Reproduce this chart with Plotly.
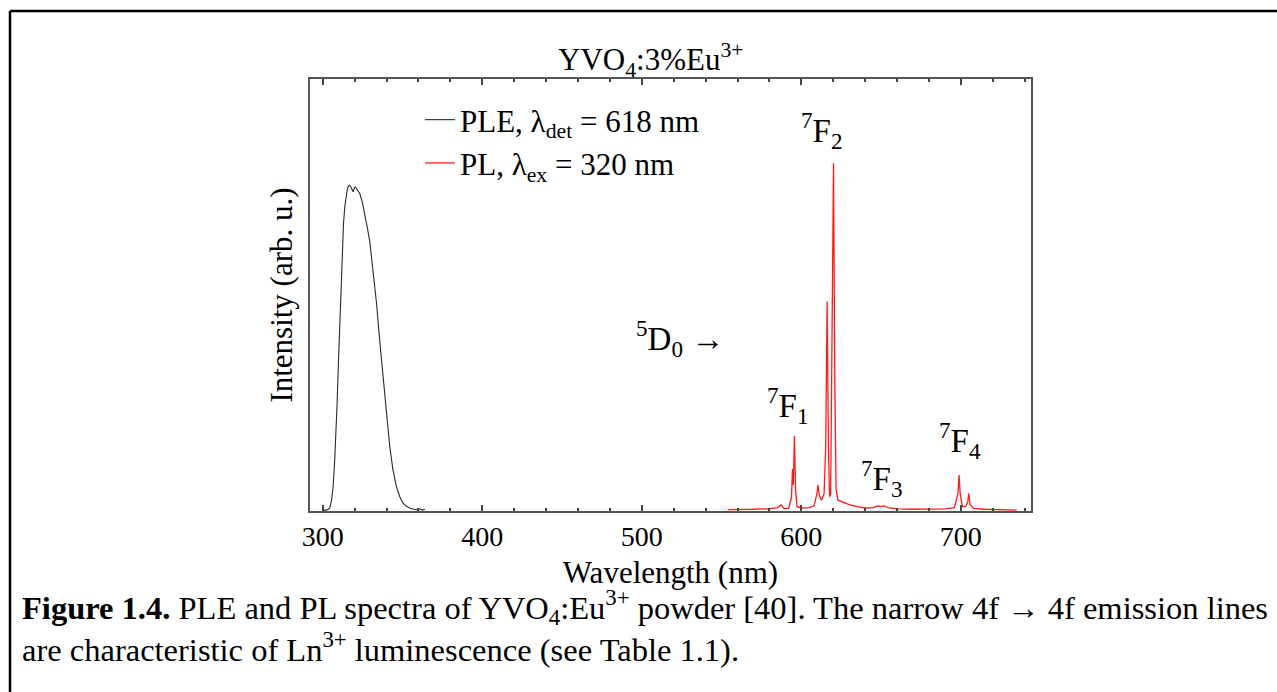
import plotly.graph_objects as go

# ---------------- data ----------------
ple_wl = [300.0, 302.0, 303.5, 304.4, 305.5, 306.5, 307.5, 308.3, 309.0, 309.9, 310.7, 311.5, 312.3, 313.0,
          313.8, 314.6, 315.3, 316.0, 316.8, 317.6, 318.3, 319.0, 319.8, 320.5, 321.3, 322.2, 323.2, 324.8,
          326.3, 328.0, 329.5, 331.5, 333.7, 335.8, 337.8, 340.0, 342.0, 344.0, 346.2, 348.3, 350.3, 352.5,
          354.5, 357.0, 359.0, 361.0, 362.5, 364.0]
ple_int = [0.002, 0.002, 0.004, 0.007, 0.025, 0.056, 0.118, 0.18, 0.25, 0.35, 0.442, 0.54, 0.62, 0.665,
           0.704, 0.730, 0.743, 0.752, 0.754, 0.750, 0.744, 0.739, 0.748, 0.750, 0.745, 0.740, 0.735, 0.715,
           0.690, 0.655, 0.623, 0.56, 0.481, 0.39, 0.311, 0.225, 0.149, 0.095, 0.056, 0.033, 0.018, 0.011,
           0.007, 0.004, 0.003, 0.005, 0.002, 0.004]

pl_wl = [553.9, 560, 565, 570, 575, 580, 585, 587.5, 589, 592, 593.8, 594.5, 595.0, 595.7, 596.4, 597.3,
         600, 605, 608, 609.8, 610.5, 611.3, 612.7, 614.3, 615.3, 616.2, 617.0, 617.7, 618.4, 619.3, 620.2,
         621.0, 621.8, 623, 626, 630, 635, 640, 645, 648, 650, 652, 655, 660, 670, 680, 690, 696, 698.2,
         698.9, 699.6, 701, 703, 704.3, 705.0, 705.8, 708, 715, 725, 735]
pl_int = [0.003, 0.003, 0.004, 0.004, 0.005, 0.005, 0.008, 0.014, 0.006, 0.006, 0.03, 0.097, 0.06, 0.174,
          0.05, 0.01, 0.007, 0.008, 0.012, 0.04, 0.060, 0.035, 0.025, 0.04, 0.15, 0.485, 0.15, 0.033, 0.04,
          0.35, 0.805, 0.3, 0.05, 0.025, 0.02, 0.015, 0.01, 0.007, 0.008, 0.012, 0.010, 0.012, 0.007, 0.005,
          0.004, 0.004, 0.005, 0.008, 0.04, 0.083, 0.04, 0.01, 0.01, 0.02, 0.041, 0.015, 0.006, 0.004, 0.003,
          0.002]

x_ticks = [300, 400, 500, 600, 700]
x_ticklabels = ["300", "400", "500", "600", "700"]

peak_labels = ["<sup>7</sup>F<sub>2</sub>", "<sup>5</sup>D<sub>0</sub> \u2192", "<sup>7</sup>F<sub>1</sub>",
               "<sup>7</sup>F<sub>3</sub>", "<sup>7</sup>F<sub>4</sub>"]
peak_label_x = [612.9, 523.8, 591.5, 650.0, 699.4]
peak_label_y = [0.88, 0.40, 0.245, 0.076, 0.164]

# ---------------- layout geometry ----------------
W, H = 1277, 692
L, R, T, B = 310, 1031, 79, 511
FONT = "Liberation Serif"
FS = 31


def px2x(px):
    return (px - L) / (R - L)


def py2y(py):
    return (B - py) / (B - T)


fig = go.Figure()
fig.add_trace(go.Scatter(x=ple_wl, y=ple_int, mode="lines", line=dict(color="#2a2a2a", width=1.1),
                         name="PLE, \u03bb<sub>det</sub> = 618 nm", legendgroup="a"))
fig.add_trace(go.Scatter(x=pl_wl, y=pl_int, mode="lines", line=dict(color="#ff1a1a", width=1.3),
                         name="PL, \u03bb<sub>ex</sub> = 320 nm", legendgroup="b"))

annotations = []
for t, x, y in zip(peak_labels, peak_label_x, peak_label_y):
    annotations.append(dict(x=x, y=y, xref="x", yref="y", text=t, showarrow=False,
                            xanchor="center", yanchor="middle",
                            font=dict(family=FONT, size=33, color="black")))

annotations.append(dict(x=px2x(650), y=py2y(60), xref="paper", yref="paper",
                        xanchor="center", yanchor="middle",
                        text="YVO<sub>4</sub>:3%Eu<sup>3+</sup>", showarrow=False,
                        font=dict(family=FONT, size=FS, color="black")))
annotations.append(dict(x=px2x(20), y=py2y(626), xref="paper", yref="paper", xanchor="left",
                        yanchor="middle", align="left",
                        text="<b>Figure 1.4.</b> PLE and PL spectra of YVO<sub>4</sub>:Eu<sup>3+</sup> powder [40]. "
                             "The narrow 4f \u2192 4f emission lines<br>"
                             "are characteristic of Ln<sup>3+</sup> luminescence (see Table 1.1).",
                        showarrow=False, font=dict(family=FONT, size=32.5, color="black")))

shapes = [
    dict(type="line", xref="paper", yref="paper", x0=px2x(10), x1=px2x(1290), y0=py2y(11), y1=py2y(11),
         line=dict(color="black", width=2.5)),
    dict(type="line", xref="paper", yref="paper", x0=px2x(10), x1=px2x(10), y0=py2y(11), y1=py2y(700),
         line=dict(color="black", width=2.5)),
]

fig.update_layout(
    width=W, height=H,
    margin=dict(l=L, r=W - R, t=T, b=H - B, pad=0),
    paper_bgcolor="white", plot_bgcolor="white",
    font=dict(family=FONT, size=FS, color="black"),
    showlegend=True,
    legend=dict(x=px2x(420), y=py2y(93), xanchor="left", yanchor="top", bgcolor="rgba(0,0,0,0)",
                font=dict(family=FONT, size=FS, color="black"), tracegroupgap=0, itemwidth=30),
    annotations=annotations,
    shapes=shapes,
    xaxis=dict(range=[292, 744], tickmode="array", tickvals=x_ticks, ticktext=x_ticklabels,
               ticks="inside", ticklen=6, tickwidth=1.5, tickcolor="#444",
               minor=dict(dtick=20, tick0=300, ticks="inside", ticklen=3.5, tickwidth=1.5, tickcolor="#444"),
               showline=True, linecolor="#555", linewidth=1.5, mirror="allticks",
               showgrid=False, zeroline=False,
               tickfont=dict(family=FONT, size=28, color="black"),
               title=dict(text="Wavelength (nm)", font=dict(family=FONT, size=FS, color="black"), standoff=10)),
    yaxis=dict(range=[0, 1], showticklabels=False, ticks="", showline=True, linecolor="#555",
               linewidth=1.5, mirror=True, showgrid=False, zeroline=False,
               title=dict(text="Intensity (arb. u.)", font=dict(family=FONT, size=FS, color="black"),
                          standoff=6)),
)

fig.write_html("out.html")
